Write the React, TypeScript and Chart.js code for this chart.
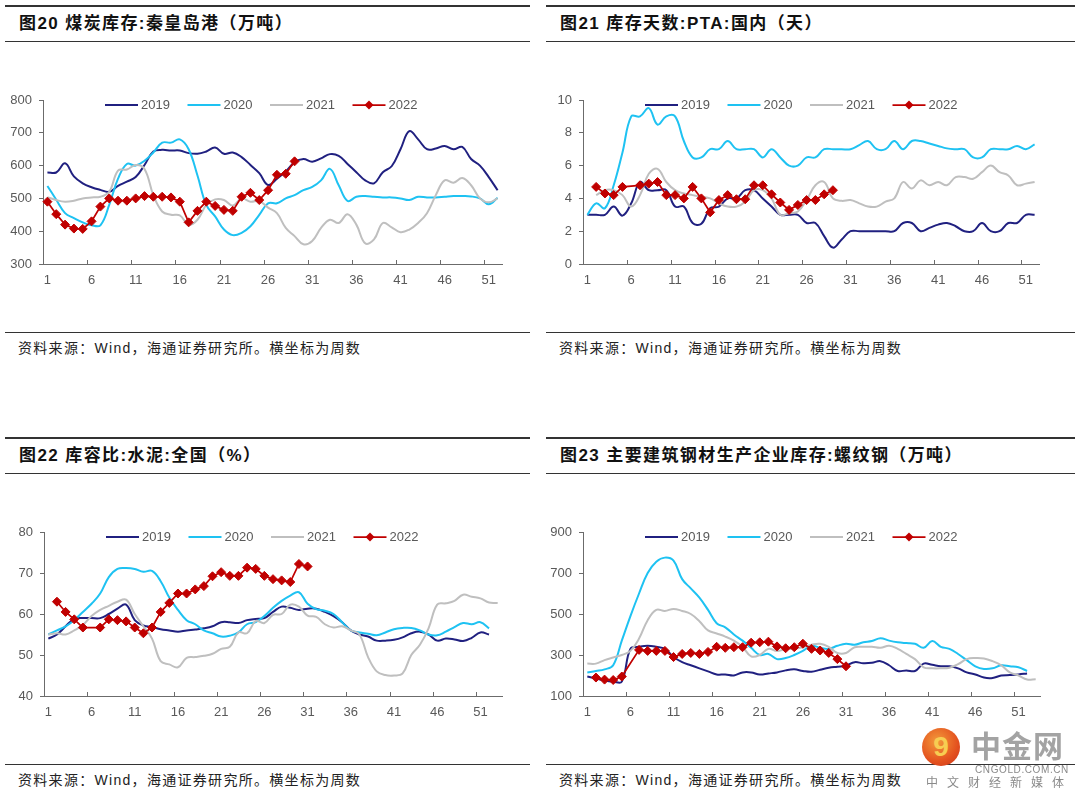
import React, { useEffect, useRef } from "react";
import { Chart, registerables } from "chart.js";
Chart.register(...registerables);

// ---------- categories ----------
const weeks52 = Array.from({ length: 52 }, (_, i) => String(i + 1));
const weeks53 = Array.from({ length: 53 }, (_, i) => String(i + 1));
const seriesNames = ["2019", "2020", "2021", "2022"];

// ---------- 图20 煤炭库存:秦皇岛港（万吨） ----------
const coal2019 = [579,579,607,567,546,534,526,520,538,551,565,602,643,648,646,646,638,636,643,655,636,640,626,602,577,541,560,582,610,620,612,622,635,630,605,580,555,546,580,598,650,705,680,650,652,660,650,657,620,600,565,525];
const coal2020 = [538,496,455,440,427,418,418,480,560,605,600,615,640,670,670,680,650,570,480,445,405,388,395,415,450,485,485,500,510,525,535,555,590,540,492,505,507,505,503,503,500,495,505,503,503,505,507,507,506,500,482,502];
const coal2021 = [504,495,490,493,500,503,505,520,585,588,602,590,510,460,450,448,420,435,480,497,495,478,500,490,492,472,455,410,385,360,370,410,435,425,452,420,363,375,425,412,397,405,425,455,510,555,548,562,540,500,488,500];
const coal2022 = [490,452,420,408,407,430,475,500,493,493,500,507,505,505,503,490,427,462,490,477,465,462,505,517,495,525,572,575,613];

// ---------- 图21 库存天数:PTA:国内（天） ----------
const pta2019 = [3.0,3.0,3.0,3.5,2.95,3.7,5.0,4.5,4.5,4.5,3.5,3.5,2.5,2.45,3.4,3.5,4.0,4.0,4.5,4.5,4.0,3.5,3.0,3.0,3.0,2.5,2.5,1.7,1.0,1.5,2.0,2.0,2.0,2.0,2.0,2.0,2.5,2.5,2.0,2.2,2.4,2.5,2.3,2.0,2.0,2.5,2.0,2.0,2.5,2.5,3.0,3.0];
const pta2020 = [3.0,3.7,3.4,4.8,6.8,9.0,9.0,9.5,8.5,9.0,9.0,7.5,6.5,6.5,7.0,7.0,7.5,7.0,7.0,7.0,6.5,7.0,6.5,6.0,6.0,6.5,6.5,7.0,7.0,7.0,7.0,7.25,7.5,7.0,7.0,7.5,7.0,7.5,7.5,7.35,7.2,7.05,7.0,7.0,6.5,6.5,7.0,7.0,7.0,7.2,7.0,7.3];
const pta2021 = [null,4.2,4.5,4.5,4.2,3.5,4.2,5.5,5.8,5.0,4.5,4.3,4.2,4.1,4.0,3.7,3.5,3.5,3.8,4.5,4.5,4.0,3.0,3.1,3.2,3.9,4.8,5.0,4.0,3.85,3.9,3.7,3.5,3.5,3.8,4.0,5.0,4.6,5.1,4.8,5.0,4.8,5.3,5.3,5.2,5.6,6.0,5.6,5.4,4.8,4.9,5.0];
const pta2022 = [null,4.7,4.3,4.2,4.7,null,4.8,4.9,5.0,4.2,4.2,4.0,4.7,4.0,3.15,3.9,4.2,3.95,3.95,4.8,4.8,4.25,3.75,3.3,3.6,3.9,3.9,4.25,4.5];

// ---------- 图22 库容比:水泥:全国（%） ----------
const cement2019 = [54,55,57,58.8,59,59,59,60,61.3,62.3,58.5,57.2,56.8,56.3,56,55.7,56,56.2,56.5,57,58,58,57.8,58.5,58.8,59,60.5,61.8,61.5,61,61.3,61.3,60.5,59.5,58,56,55,54.5,53.5,53.5,53.7,54.3,55.3,55.7,55,53.5,54,53.8,53.4,54.2,55.5,55];
const cement2020 = [55,56,57,58.5,60.5,62.5,65,69,71,71.2,71,70.3,70.5,68,64,61,58.5,57.5,56,55.3,54.5,54.7,55.5,57.5,58,59.5,61.5,63.2,64.5,65.3,62.5,61.2,60.8,60,58,56,55.5,55.2,54.8,55.5,56.3,56.6,56.6,56,55,54.8,55.7,56.8,57.8,57.5,58,56.5];
const cement2021 = [55,55.3,55,56,57.3,59.5,61,62,63,63.5,60,57,54,48.5,47.7,47,49.3,49.5,49.8,50.3,51.5,52,55.5,55.3,58.3,57.8,59.8,60,62.3,61.8,59.6,59.3,57.5,56.7,57,56,55,49.5,46,45.1,45,45.5,50,52.5,56.5,62.3,62.6,63.2,64.7,64.2,63.8,62.8,62.7];
const cement2022 = [null,63,60.5,58.7,56.7,null,56.7,58.7,58.5,58.2,56.7,55.3,56.7,60.5,62.7,65,65,66,66.8,69.2,70.2,69.3,69.3,71.3,71,69.3,68.5,68.2,67.8,72.2,71.6];

// ---------- 图23 主要建筑钢材生产企业库存:螺纹钢（万吨） ----------
const rebar2019 = [195,185,175,170,170,330,340,345,340,330,290,265,250,235,220,205,205,200,215,215,205,210,215,225,230,222,218,228,238,243,248,265,260,262,270,250,222,225,222,258,252,245,245,235,215,205,190,188,200,202,205,210];
const rebar2020 = [215,222,230,250,370,490,600,700,755,775,760,670,625,580,520,455,435,400,370,335,300,305,280,285,300,320,345,335,330,345,355,350,362,368,382,370,362,358,355,335,368,340,330,305,275,245,232,235,250,245,240,222];
const rebar2021 = [258,258,275,288,300,320,380,470,520,515,525,515,500,465,420,405,390,370,340,293,300,330,320,328,330,338,350,355,340,310,310,338,340,340,335,345,330,305,280,240,235,235,238,255,280,285,283,270,250,215,200,180,182];
const rebar2022 = [null,190,180,178,195,null,325,320,320,320,290,305,310,305,315,340,335,338,338,360,362,365,342,333,338,355,330,322,310,280,245];

// ---------- titles ----------
const titles = [
  "图20 煤炭库存:秦皇岛港（万吨）",
  "图21 库存天数:PTA:国内（天）",
  "图22 库容比:水泥:全国（%）",
  "图23 主要建筑钢材生产企业库存:螺纹钢（万吨）",
];
const sourceText = "资料来源：Wind，海通证券研究所。横坐标为周数";

// ---------- styles ----------
const COLORS = ["#202080", "#1EC2F2", "#BFBFBF", "#C00000"];
const AXIS = "#6b6b6b";
const TICK = "#595959";
const FONT = '"Liberation Sans", Arial, "Noto Sans CJK SC", sans-serif';

type PanelCfg = {
  title: string;
  x: number;
  y: number;
  w: number;
  areaLeft: number;
  areaRight: number;
  labels: string[];
  data: (number | null)[][];
  min: number;
  max: number;
  step: number;
};

const panels: PanelCfg[] = [
  { title: titles[0], x: 5, y: 0, w: 525, areaLeft: 43, areaRight: 502, labels: weeks52, data: [coal2019, coal2020, coal2021, coal2022], min: 300, max: 800, step: 100 },
  { title: titles[1], x: 546, y: 0, w: 529, areaLeft: 583, areaRight: 1039, labels: weeks52, data: [pta2019, pta2020, pta2021, pta2022], min: 0, max: 10, step: 2 },
  { title: titles[2], x: 5, y: 432, w: 525, areaLeft: 44, areaRight: 502, labels: weeks53, data: [cement2019, cement2020, cement2021, cement2022], min: 40, max: 80, step: 10 },
  { title: titles[3], x: 546, y: 432, w: 529, areaLeft: 583, areaRight: 1040, labels: weeks53, data: [rebar2019, rebar2020, rebar2021, rebar2022], min: 100, max: 900, step: 200 },
];

const CANVAS_TOP = 60;
const CANVAS_H = 234;

function drawDiamond(ctx: CanvasRenderingContext2D, x: number, y: number, r: number, color: string) {
  ctx.beginPath();
  ctx.moveTo(x, y - r);
  ctx.lineTo(x + r, y);
  ctx.lineTo(x, y + r);
  ctx.lineTo(x - r, y);
  ctx.closePath();
  ctx.fillStyle = color;
  ctx.fill();
}

const inlineLegend = {
  id: "inlineLegend",
  afterDatasetsDraw(chart: any) {
    const { ctx, chartArea } = chart;
    const y = chartArea.top + 5;
    chart.data.datasets.forEach((ds: any, i: number) => {
      const x0 = chartArea.left + 62 + i * 82.5;
      ctx.save();
      ctx.strokeStyle = ds.borderColor;
      ctx.lineWidth = ds.borderWidth;
      ctx.beginPath();
      ctx.moveTo(x0, y);
      ctx.lineTo(x0 + 33, y);
      ctx.stroke();
      if (ds.pointStyle === "rectRot") drawDiamond(ctx, x0 + 16.5, y, 4.5, ds.borderColor);
      ctx.fillStyle = TICK;
      ctx.font = `13px ${FONT}`;
      ctx.textBaseline = "middle";
      ctx.textAlign = "left";
      ctx.fillText(ds.label, x0 + 36, y + 0.5);
      ctx.restore();
    });
  },
};

const innerXTicks = {
  id: "innerXTicks",
  afterDraw(chart: any) {
    const { ctx, chartArea } = chart;
    const xs = chart.scales.x;
    const n = chart.data.labels.length;
    const half = (xs.getPixelForValue(1) - xs.getPixelForValue(0)) / 2;
    ctx.save();
    ctx.strokeStyle = AXIS;
    ctx.lineWidth = 1;
    for (let i = 0; i < n; i += 5) {
      const px = Math.round(xs.getPixelForValue(i) - half) + 0.5;
      ctx.beginPath();
      ctx.moveTo(px, chartArea.bottom);
      ctx.lineTo(px, chartArea.bottom - 4);
      ctx.stroke();
    }
    ctx.restore();
  },
};

function ChartPanel({ cfg }: { cfg: PanelCfg }) {
  const ref = useRef<HTMLCanvasElement | null>(null);
  useEffect(() => {
    if (!ref.current) return;
    const yW = cfg.areaLeft - cfg.x;
    const padR = cfg.x + cfg.w - cfg.areaRight;
    const chart = new Chart(ref.current, {
      type: "line",
      data: {
        labels: cfg.labels,
        datasets: cfg.data.map((d, i) => {
          const isRed = i === 3;
          return {
            label: seriesNames[i],
            data: d,
            borderColor: COLORS[i],
            backgroundColor: COLORS[i],
            borderWidth: isRed ? 1.75 : 2,
            tension: isRed ? 0 : 0.4,
            pointRadius: isRed ? 4.5 : 0,
            pointStyle: isRed ? "rectRot" : "circle",
            pointBackgroundColor: COLORS[i],
            pointBorderColor: COLORS[i],
            pointBorderWidth: 1,
            spanGaps: true,
            order: 3 - i,
          } as any;
        }),
      },
      options: {
        responsive: false,
        maintainAspectRatio: false,
        animation: false,
        events: [],
        layout: { padding: { top: 40, right: padR, left: 0, bottom: 0 } },
        plugins: { legend: { display: false }, tooltip: { enabled: false }, title: { display: false } },
        scales: {
          x: {
            type: "category",
            offset: true,
            grid: { display: false, drawTicks: false },
            border: { display: true, color: AXIS, width: 1 },
            ticks: {
              autoSkip: false,
              maxRotation: 0,
              minRotation: 0,
              padding: 9,
              color: TICK,
              font: { family: FONT, size: 13 },
              callback: (_v: any, idx: number) => (idx % 5 === 0 ? cfg.labels[idx] : ""),
            },
            afterFit: (s: any) => {
              s.height = 30;
            },
          },
          y: {
            min: cfg.min,
            max: cfg.max,
            ticks: { stepSize: cfg.step, color: TICK, padding: 7, font: { family: FONT, size: 13 } },
            grid: { drawOnChartArea: false, drawTicks: true, tickLength: 4, color: AXIS },
            border: { display: true, color: AXIS, width: 1 },
            afterFit: (s: any) => {
              s.width = yW;
            },
          },
        },
      },
      plugins: [inlineLegend, innerXTicks],
    });
    return () => chart.destroy();
  }, [cfg]);

  const textColor = "#222";
  return (
    <>
      <div style={{ position: "absolute", left: cfg.x, top: cfg.y + 5, width: cfg.w, height: 0, borderTop: "2px solid #333" }} />
      <div
        style={{
          position: "absolute",
          left: cfg.x + 14,
          top: cfg.y + 13,
          height: 22,
          lineHeight: "22px",
          fontFamily: FONT,
          fontWeight: 700,
          fontSize: 17,
          letterSpacing: "1.4px",
          color: "#111",
          whiteSpace: "nowrap",
        }}
      >
        {cfg.title}
      </div>
      <div style={{ position: "absolute", left: cfg.x, top: cfg.y + 41, width: cfg.w, height: 0, borderTop: "1.5px solid #333" }} />
      <canvas
        ref={ref}
        width={cfg.w}
        height={CANVAS_H}
        style={{ position: "absolute", left: cfg.x, top: cfg.y + CANVAS_TOP, width: cfg.w, height: CANVAS_H }}
      />
      <div style={{ position: "absolute", left: cfg.x, top: cfg.y + 332, width: cfg.w, height: 0, borderTop: "1.5px solid #333" }} />
      <div
        style={{
          position: "absolute",
          left: cfg.x + 13,
          top: cfg.y + 338,
          height: 20,
          lineHeight: "20px",
          fontFamily: FONT,
          fontSize: 14,
          letterSpacing: "1.3px",
          color: textColor,
          whiteSpace: "nowrap",
        }}
      >
        {sourceText}
      </div>
    </>
  );
}

function Watermark() {
  return (
    <>
      <div
        style={{
          position: "absolute",
          left: 922,
          top: 728,
          width: 38,
          height: 38,
          borderRadius: "50%",
          background: "radial-gradient(circle at 40% 35%, #f39a3a 0%, #e4521f 60%, #c8321a 100%)",
          display: "flex",
          alignItems: "center",
          justifyContent: "center",
          color: "#f7cd52",
          fontFamily: FONT,
          fontWeight: 700,
          fontSize: 28,
          lineHeight: "38px",
        }}
      >
        9
      </div>
      <div style={{ position: "absolute", left: 971, top: 726, fontFamily: '"Noto Sans CJK SC", sans-serif', fontWeight: 700, fontSize: 30, lineHeight: "36px", color: "#a3a3a3", letterSpacing: "1px", whiteSpace: "nowrap" }}>
        中金网
      </div>
      <div style={{ position: "absolute", left: 975, top: 764, fontFamily: FONT, fontSize: 10, lineHeight: "12px", color: "#8a8a8a", letterSpacing: "0.6px", whiteSpace: "nowrap" }}>
        CNGOLD.COM.CN
      </div>
      <div style={{ position: "absolute", left: 926, top: 775, fontFamily: '"Noto Sans CJK SC", sans-serif', fontSize: 12, lineHeight: "14px", color: "#8a8a8a", letterSpacing: "9px", whiteSpace: "nowrap" }}>
        中文财经新媒体
      </div>
    </>
  );
}

export default function App() {
  return (
    <div style={{ position: "absolute", left: 0, top: 0, width: 1080, height: 801, background: "#fff", overflow: "hidden" }}>
      {panels.map((p, i) => (
        <ChartPanel key={i} cfg={p} />
      ))}
      <Watermark />
    </div>
  );
}
